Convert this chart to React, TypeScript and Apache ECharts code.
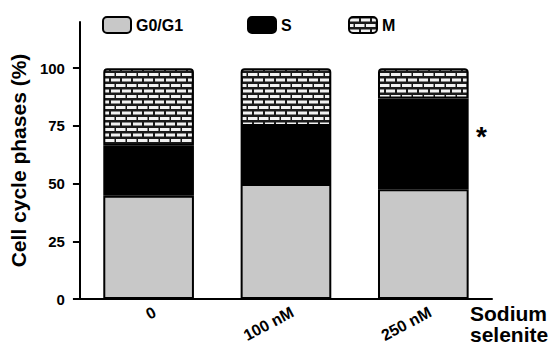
import React, { useEffect, useRef } from "react";
import * as echarts from "echarts";

const categories = ["0", "100 nM", "250 nM"];
const g0g1 = [44.7, 49.8, 47.5];
const sPhase = [21.7, 25.2, 39.4];
const mPhase = [33.6, 25.0, 13.1];
const yTicks = [0, 25, 50, 75, 100];
const seriesNames = ["G0/G1", "S", "M"];

function makeBrick(): HTMLCanvasElement {
  const c = document.createElement("canvas");
  c.width = 11;
  c.height = 11;
  const ctx = c.getContext("2d")!;
  ctx.fillStyle = "#1a1a1a";
  ctx.fillRect(0, 0, 11, 11);
  ctx.fillStyle = "#f2f2f2";
  ctx.fillRect(1, 1.5, 9, 3);
  ctx.fillRect(-4.5, 7, 9, 3);
  ctx.fillRect(6, 7, 9, 3);
  return c;
}

export default function App() {
  const ref = useRef<HTMLDivElement>(null);
  useEffect(() => {
    if (!ref.current) return;
    const chart = echarts.init(ref.current, null, { renderer: "svg" });
    const brick = makeBrick();
    const font = "Liberation Sans, Arial, sans-serif";
    const fills = ["#c8c8c8", "#000", { image: brick, repeat: "repeat" }];
    const data = [g0g1, sPhase, mPhase];
    const legendLefts = [97, 242, 343];
    chart.setOption({
      animation: false,
      textStyle: { fontFamily: font },
      grid: [
        { left: 79, right: 59, top: 22, bottom: 50, containLabel: false },
        { left: 86, right: 52, top: 22, bottom: 50, containLabel: false },
      ],
      legend: seriesNames.map((n, i) => ({
        data: [n],
        left: legendLefts[i],
        top: 11,
        itemWidth: 28,
        itemHeight: 16,
        itemGap: 6,
        icon: "roundRect",
        textStyle: { fontWeight: "bold", fontSize: 16, color: "#000", fontFamily: font },
      })),
      xAxis: [
        {
          type: "category",
          gridIndex: 0,
          data: categories,
          axisLine: { lineStyle: { color: "#000", width: 2 } },
          axisTick: { show: false },
          axisLabel: { show: false },
        },
        {
          type: "category",
          gridIndex: 1,
          data: categories,
          axisLine: { show: false },
          axisTick: { show: false },
          axisLabel: {
            rotate: 28,
            fontWeight: "bold",
            fontSize: 16,
            color: "#000",
            margin: 12,
            fontFamily: font,
          },
        },
      ],
      yAxis: [
        {
          type: "value",
          gridIndex: 0,
          min: 0,
          max: 120,
          name: "Cell cycle phases (%)",
          nameLocation: "middle",
          nameGap: 46,
          nameTextStyle: { fontWeight: "bold", fontSize: 21, color: "#000", fontFamily: font },
          splitLine: { show: false },
          axisLine: { show: true, lineStyle: { color: "#000", width: 2 } },
          axisTick: { show: true, length: 7, lineStyle: { width: 2, color: "#000" }, customValues: yTicks },
          axisLabel: {
            customValues: yTicks,
            fontWeight: "bold",
            fontSize: 15,
            color: "#000",
            margin: 15,
            fontFamily: font,
          },
        },
        {
          type: "value",
          gridIndex: 1,
          min: 0,
          max: 120,
          show: false,
        },
      ],
      series: seriesNames.map((n, i) => ({
        name: n,
        type: "bar",
        stack: "total",
        xAxisIndex: 0,
        yAxisIndex: 0,
        data: data[i],
        barWidth: "66%",
        itemStyle: {
          color: fills[i],
          borderColor: "#000",
          borderWidth: 2,
          borderRadius: i === 2 ? [3, 3, 0, 0] : 0,
        },
      })),
      graphic: [
        {
          type: "text",
          left: 476,
          top: 122,
          style: { text: "*", font: `bold 28px ${font}`, fill: "#000" },
        },
        {
          type: "text",
          left: 470,
          top: 303,
          style: { text: "Sodium\nselenite", font: `bold 21px ${font}`, fill: "#000", lineHeight: 21 },
        },
      ],
    });
    return () => chart.dispose();
  }, []);
  return <div ref={ref} style={{ width: 551, height: 349, position: "absolute", left: 0, top: 0 }} />;
}
